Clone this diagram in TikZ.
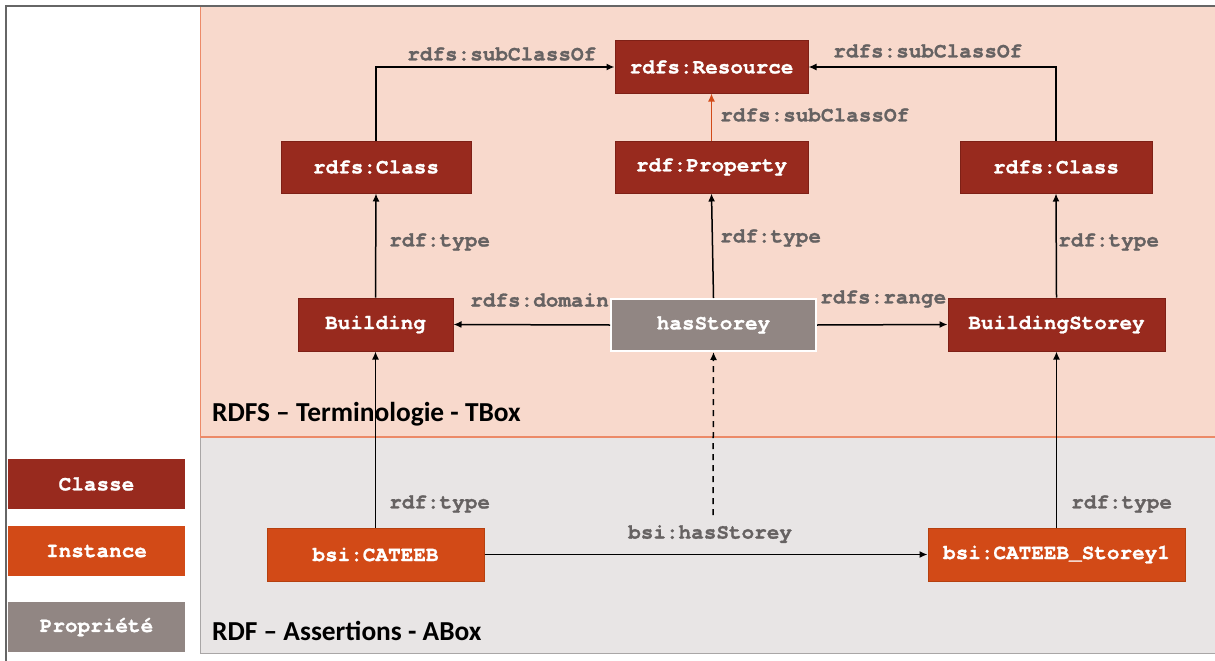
\documentclass[tikz,border=0pt]{standalone}
\usepackage{fontspec}
\setmainfont{Liberation Sans}
\newfontfamily\monob{TeX Gyre Cursor}[BoldFeatures={FakeBold=1.2}]
\newfontfamily\titlefont{Carlito}
\usetikzlibrary{arrows.meta}
\definecolor{classc}{HTML}{982A1E}
\definecolor{classb}{HTML}{7E2016}
\definecolor{instc}{HTML}{D24A17}
\definecolor{instb}{HTML}{B5400F}
\definecolor{propc}{HTML}{918683}
\definecolor{tboxfill}{HTML}{F8D9CC}
\definecolor{tboxline}{HTML}{EC8A68}
\definecolor{aboxfill}{HTML}{E8E5E5}
\definecolor{aboxline}{HTML}{A9A6A6}
\definecolor{labelc}{HTML}{666262}
\definecolor{subarrow}{HTML}{D24A17}
\begin{document}
\begin{tikzpicture}[x=1pt,y=-1pt,
  box/.style={rectangle, inner sep=0pt, text=white, font=\monob\bfseries\fontsize{21}{23}\selectfont},
  classbox/.style={box, fill=classc, draw=classb, line width=1pt},
  instbox/.style={box, fill=instc, draw=instb, line width=1pt},
  propbox/.style={box, fill=propc, draw=white, line width=2pt},
  legbox/.style={box, fill=#1, minimum width=177pt, minimum height=50pt},
  lab/.style={text=labelc, inner sep=0pt, font=\monob\bfseries\fontsize{21}{23}\selectfont},
  ttl/.style={inner sep=0pt, anchor=west, font=\titlefont\bfseries\fontsize{27.4}{29}\selectfont},
  arr/.style={-{Latex[length=8pt,width=7pt]}, line width=1.5pt, black},
]
\useasboundingbox (0,0) rectangle (1215,661);
\fill[white] (0,0) rectangle (1215,661);
% outer frame
\draw[gray!80!black, line width=1.5pt] (6,661) -- (6,6) -- (1215,6);
% regions
\fill[tboxfill] (200,7) rectangle (1215,437);
\fill[aboxfill] (200,437) rectangle (1215,653);
\draw[tboxline, line width=1pt] (200.5,7) -- (200.5,437);
\draw[aboxline, line width=1pt] (200.5,437) -- (200.5,653) -- (1215,653);
\draw[tboxline, line width=1.5pt] (200,437) -- (1215,437);

\node[ttl] (ttbox) at (212,414) {RDFS – Terminologie - TBox};
\node[ttl] (tabox) at (212,631) {RDF – Assertions - ABox};

% nodes
\node[classbox, minimum width=193pt, minimum height=52pt] (res) at (711.5,67) {rdfs:Resource};
\node[classbox, minimum width=190pt, minimum height=52pt] (clsL) at (376,167) {rdfs:Class};
\node[classbox, minimum width=193pt, minimum height=52pt] (prop) at (711.5,167) {rdf:Property};
\node[classbox, minimum width=192pt, minimum height=52pt] (clsR) at (1056,167) {rdfs:Class};
\node[classbox, minimum width=155pt, minimum height=53pt] (bld) at (375.5,324.5) {Building};
\node[propbox, minimum width=205pt, minimum height=52pt] (has) at (713.5,325) {hasStorey};
\node[classbox, minimum width=217pt, minimum height=53pt] (bs) at (1056.5,324.5) {BuildingStorey};
\node[instbox, minimum width=217pt, minimum height=53pt] (cat) at (375.5,554.5) {bsi:CATEEB};
\node[instbox, minimum width=257pt, minimum height=53pt] (cs1) at (1056.5,554.5) {bsi:CATEEB\_Storey1};

% legend
\node[legbox=classc] (lc) at (96.5,484) {Classe};
\node[legbox=instc] (li) at (96.5,551) {Instance};
\node[legbox=propc] (lp) at (96.5,627) {Propriété};

% connectors
\coordinate (cL) at (376,67);
\coordinate (cR) at (1056,67);
\draw[arr] (clsL.north) -- (cL) -- (res.west);
\draw[arr] (clsR.north) -- (cR) -- (res.east);
\draw[arr, subarrow] (prop.north) -- (res.south);
\draw[arr] (bld.north) -- (clsL.south);
\draw[arr] (has.north) -- (prop.south);
\draw[arr] (bs.north) -- (clsR.south);
\draw[arr] (has.west) -- (bld.east);
\draw[arr] (has.east) -- (bs.west);
\draw[arr] (cat.north) -- (bld.south);
\draw[arr] (cs1.north) -- (bs.south);
\coordinate (dstart) at (713,515);
\draw[arr, dashed, dash pattern=on 6pt off 5pt] (dstart) -- (has.south);
\draw[arr] (cat.east) -- (cs1.west);

% labels
\node[lab, anchor=west] (l1) at (407,54) {rdfs:subClassOf};
\node[lab, anchor=west] (l2) at (833,51) {rdfs:subClassOf};
\node[lab, anchor=west] (l3) at (720,115) {rdfs:subClassOf};
\node[lab, anchor=west] (l4) at (389,242) {rdf:type};
\node[lab, anchor=west] (l5) at (720,238) {rdf:type};
\node[lab, anchor=west] (l6) at (1058,242) {rdf:type};
\node[lab, anchor=west] (l7) at (470,300) {rdfs:domain};
\node[lab, anchor=west] (l8) at (820,299) {rdfs:range};
\node[lab, anchor=west] (l9) at (389,504) {rdf:type};
\node[lab, anchor=west] (l10) at (1071,504) {rdf:type};
\node[lab, anchor=west] (l11) at (628,534) {bsi:hasStorey};
\end{tikzpicture}
\end{document}
